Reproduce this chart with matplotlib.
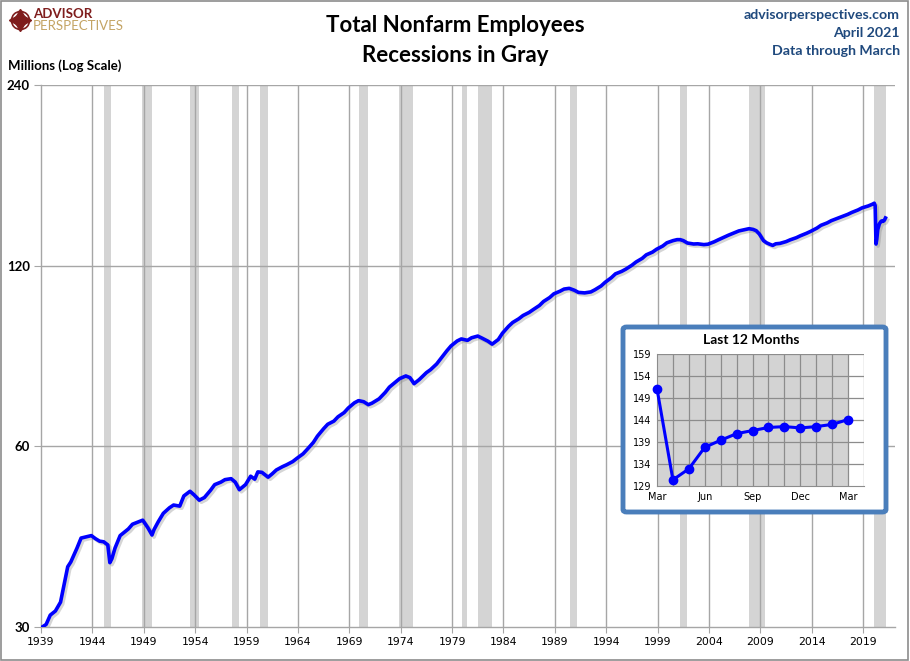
"""
Total Nonfarm Employees, log scale, with NBER recessions shaded
and an inset of the last 12 months.
"""
import matplotlib
matplotlib.use("Agg")
import matplotlib.pyplot as plt
import matplotlib.patheffects as pe
from matplotlib.patches import FancyBboxPatch
from matplotlib.lines import Line2D

# ---- data (millions) ----
years = [
    1939.0, 1939.5, 1939.9, 1940.4, 1940.9, 1941.6, 1941.9, 1942.5, 1942.9, 1943.4,
    1943.9, 1944.3, 1944.7, 1945.1, 1945.5, 1945.7, 1945.9, 1946.2, 1946.7, 1947.5,
    1947.9, 1948.6, 1948.9, 1949.4, 1949.8, 1950.0, 1950.4, 1950.9, 1951.5, 1951.9,
    1952.5, 1952.9, 1953.5, 1953.9, 1954.4, 1954.9, 1955.5, 1955.9, 1956.5, 1956.9,
    1957.5, 1957.9, 1958.3, 1958.9, 1959.4, 1959.8, 1960.1, 1960.5, 1961.1, 1961.5,
    1961.9, 1962.5, 1962.9, 1963.5, 1963.9, 1964.5, 1964.9, 1965.5, 1965.9, 1966.5,
    1966.9, 1967.5, 1967.9, 1968.5, 1968.9, 1969.5, 1969.9, 1970.4, 1970.85, 1971.2,
    1971.9, 1972.5, 1972.9, 1973.5, 1973.9, 1974.5, 1974.9, 1975.3, 1975.8, 1976.5,
    1976.9, 1977.5, 1977.9, 1978.5, 1978.9, 1979.5, 1979.9, 1980.5, 1980.9, 1981.5,
    1981.9, 1982.5, 1982.9, 1983.5, 1983.9, 1984.5, 1984.9, 1985.5, 1985.9, 1986.5,
    1986.9, 1987.5, 1987.9, 1988.5, 1988.9, 1989.5, 1989.9, 1990.4, 1990.9, 1991.3,
    1991.9, 1992.5, 1992.9, 1993.5, 1993.9, 1994.5, 1994.9, 1995.5, 1995.9, 1996.5,
    1996.9, 1997.5, 1997.9, 1998.5, 1998.9, 1999.5, 1999.9, 2000.5, 2000.9, 2001.2,
    2001.5, 2001.9, 2002.5, 2002.9, 2003.5, 2003.9, 2004.5, 2004.9, 2005.5, 2005.9,
    2006.5, 2006.9, 2007.5, 2007.9, 2008.3, 2008.6, 2008.9, 2009.3, 2009.6, 2009.9,
    2010.2, 2010.5, 2010.9, 2011.5, 2011.9, 2012.5, 2012.9, 2013.5, 2013.9, 2014.5,
    2014.9, 2015.5, 2015.9, 2016.5, 2016.9, 2017.5, 2017.9, 2018.5, 2018.9, 2019.5,
    2019.9, 2020.08, 2020.17, 2020.25, 2020.33, 2020.42, 2020.5, 2020.58, 2020.67,
    2020.75, 2020.83, 2020.92, 2021.0, 2021.08, 2021.17,
]
employees = [
    29.9, 30.3, 31.4, 31.9, 33.0, 37.8, 38.5, 40.6, 42.2, 42.4,
    42.6, 42.1, 41.7, 41.6, 41.1, 38.4, 39.0, 40.6, 42.6, 43.7,
    44.5, 45.0, 45.2, 43.9, 42.7, 43.6, 44.9, 46.4, 47.4, 47.9,
    47.7, 49.6, 50.5, 49.8, 48.8, 49.3, 50.7, 51.8, 52.3, 52.8,
    53.0, 52.3, 50.8, 51.8, 53.5, 52.9, 54.4, 54.3, 53.3, 54.0,
    54.8, 55.5, 55.9, 56.6, 57.3, 58.3, 59.3, 60.9, 62.4, 64.2,
    65.3, 66.1, 67.2, 68.3, 69.5, 70.9, 71.5, 71.2, 70.4, 70.8,
    72.0, 73.8, 75.3, 76.8, 77.8, 78.6, 78.1, 76.3, 77.5, 79.6,
    80.5, 82.3, 84.0, 86.6, 88.2, 89.9, 90.6, 90.1, 91.0, 91.6,
    90.9, 89.8, 88.8, 90.4, 92.6, 95.1, 96.5, 97.9, 99.1, 100.3,
    101.4, 103.0, 104.6, 106.2, 107.7, 108.8, 109.7, 110.0, 109.2, 108.3,
    108.1, 108.5, 109.4, 111.0, 112.6, 114.6, 116.3, 117.4, 118.4, 120.2,
    121.7, 123.4, 125.1, 126.4, 127.8, 129.4, 131.0, 132.1, 132.6, 132.6,
    132.1, 130.9, 130.4, 130.5, 130.1, 130.3, 131.5, 132.5, 133.9, 134.9,
    136.2, 137.1, 137.8, 138.3, 137.9, 137.2, 135.5, 132.1, 131.0, 130.3,
    129.7, 130.5, 130.7, 131.6, 132.5, 133.6, 134.6, 135.9, 136.9, 138.6,
    140.1, 141.4, 142.6, 143.9, 144.8, 146.1, 147.2, 148.6, 149.8, 150.9,
    151.9, 152.5, 151.1, 130.4, 132.9, 137.8, 139.4, 140.9, 141.6,
    142.3, 142.5, 142.2, 142.5, 143.0, 144.1,
]

recession_start = [1945.1, 1948.85, 1953.5, 1957.6, 1960.3, 1969.9, 1973.85, 1980.0,
                   1981.5, 1990.5, 2001.2, 2007.9, 2020.08]
recession_end = [1945.8, 1949.8, 1954.4, 1958.3, 1961.1, 1970.85, 1975.2, 1980.5,
                 1982.85, 1991.2, 2001.85, 2009.45, 2021.25]

inset_months = ["Mar", "Apr", "May", "Jun", "Jul", "Aug", "Sep", "Oct", "Nov",
                "Dec", "Jan", "Feb", "Mar"]
inset_values = [151.1, 130.4, 132.9, 137.8, 139.4, 140.9, 141.6, 142.3, 142.5,
                142.2, 142.5, 143.0, 144.1]

year_ticks = list(range(1939, 2020, 5))
value_ticks = [30, 60, 120, 240]
inset_ticks = [129, 134, 139, 144, 149, 154, 159]

TITLE_FONT = "Lato"
GRID = "#a6a6a6"
BAND = "#d4d4d4"
NAVY = "#1f497d"
LOGO_RED = "#7f1d1d"

fig = plt.figure(figsize=(9.1, 6.61), dpi=100)
W, H = 910, 661


def fx(px):
    return px / W


def fy(py):
    return 1 - py / H


# outer frame
fig.patches.append(plt.Rectangle((0.001, 0.001), 0.997, 0.997, transform=fig.transFigure,
                                 fill=False, edgecolor="#8c8c8c", lw=1.2))

# ---- main chart ----
ax = fig.add_axes([fx(41), fy(627), fx(895) - fx(41), fy(85) - fy(627)])
ax.set_yscale("log")
ax.set_ylim(30, 240)
ax.set_xlim(1939, 2022.1)

for s, e in zip(recession_start, recession_end):
    ax.axvspan(s, e, color=BAND, lw=0, zorder=1)

for yr in year_ticks[1:]:
    ax.axvline(yr, color=GRID, lw=1, zorder=2)
for v in value_ticks[1:]:
    ax.axhline(v, color=GRID, lw=1, zorder=2)

ax.plot(years, employees, color="#0000ff", lw=2.6, zorder=4,
        solid_joinstyle="round",
        path_effects=[pe.SimpleLineShadow(offset=(1.5, -1.5), shadow_color="#888888", alpha=0.35),
                      pe.Normal()])

ax.set_xticks(year_ticks)
ax.set_xticklabels([str(y) for y in year_ticks], fontsize=7.8, family="DejaVu Sans")
ax.set_yticks(value_ticks)
ax.set_yticklabels([str(v) for v in value_ticks], fontsize=9.5, family=TITLE_FONT,
                   fontweight="bold")
ax.yaxis.set_minor_locator(matplotlib.ticker.NullLocator())
ax.tick_params(axis="x", length=4, color=GRID, pad=3)
ax.tick_params(axis="y", length=5, color=GRID, pad=3)
for side in ["top", "right"]:
    ax.spines[side].set_visible(False)
for side in ["left", "bottom"]:
    ax.spines[side].set_color(GRID)
    ax.spines[side].set_linewidth(1)

# ---- texts ----
fig.text(fx(455), fy(25), "Total Nonfarm Employees", ha="center", va="center",
         fontsize=16, fontweight="bold", family=TITLE_FONT)
fig.text(fx(455), fy(55), "Recessions in Gray", ha="center", va="center",
         fontsize=16, fontweight="bold", family=TITLE_FONT)
for i, line in enumerate(["advisorperspectives.com", "April 2021", "Data through March"]):
    fig.text(fx(900), fy(15 + 18 * i), line, ha="right", va="center", fontsize=10.2,
             fontweight="bold", family=TITLE_FONT, color=NAVY)
fig.text(fx(8), fy(66), "Millions (Log Scale)", ha="left", va="center", fontsize=9.5,
         fontweight="bold", family=TITLE_FONT)

# logo
fig.text(fx(33), fy(14), "ADVISOR", ha="left", va="center", fontsize=9.5,
         fontweight="bold", family=TITLE_FONT, color=LOGO_RED)
fig.text(fx(33), fy(26.5), "PERSPECTIVES", ha="left", va="center", fontsize=9.5,
         family=TITLE_FONT, color="#c4a464")
fig.lines.append(Line2D([fx(20)], [fy(20)], marker="o", ms=13, mfc="none", mew=1.2,
                        mec=LOGO_RED, transform=fig.transFigure))
fig.lines.append(Line2D([fx(20)], [fy(20)], marker=(4, 1, 0), ms=16, color=LOGO_RED,
                        transform=fig.transFigure))
fig.lines.append(Line2D([fx(20)], [fy(20)], marker=(4, 1, 45), ms=9, color=LOGO_RED,
                        transform=fig.transFigure))

# ---- inset ----
fig.patches.append(FancyBboxPatch((fx(623), fy(512)), fx(886) - fx(623), fy(327) - fy(512),
                                  boxstyle="round,pad=0,rounding_size=0.004",
                                  transform=fig.transFigure, facecolor="white",
                                  edgecolor="#4a7ebb", lw=3.5, zorder=5))
fig.text(fx(751), fy(340), "Last 12 Months", ha="center", va="center", fontsize=10,
         fontweight="bold", family=TITLE_FONT, zorder=6)

ins = fig.add_axes([fx(657), fy(486), fx(864) - fx(657), fy(354) - fy(486)], zorder=6)
ins.set_xlim(0, len(inset_values))
ins.set_ylim(inset_ticks[0], inset_ticks[-1])
ins.axvspan(0, len(inset_values) - 1, color="#d3d3d3", lw=0, zorder=0)
for i in range(1, len(inset_values) + 1):
    ins.axvline(i, color="#8c8c8c", lw=0.9, zorder=1)
for v in inset_ticks[1:]:
    ins.axhline(v, color="#8c8c8c", lw=0.9, zorder=1)
ins.plot(range(len(inset_values)), inset_values, color="#0000ff", lw=2.2, marker="o",
         ms=6, zorder=3, clip_on=False)
ins.set_yticks(inset_ticks)
ins.set_yticklabels([str(t) for t in inset_ticks], fontsize=7, family="DejaVu Sans")
ins.set_xticks([0, 3, 6, 9, 12])
ins.set_xticklabels([inset_months[i] for i in [0, 3, 6, 9, 12]], fontsize=7,
                    family="DejaVu Sans")
ins.tick_params(length=0, pad=4)
for side in ["top", "right"]:
    ins.spines[side].set_visible(False)
for side in ["left", "bottom"]:
    ins.spines[side].set_color("#8c8c8c")

fig.savefig("out.png", dpi=100)
